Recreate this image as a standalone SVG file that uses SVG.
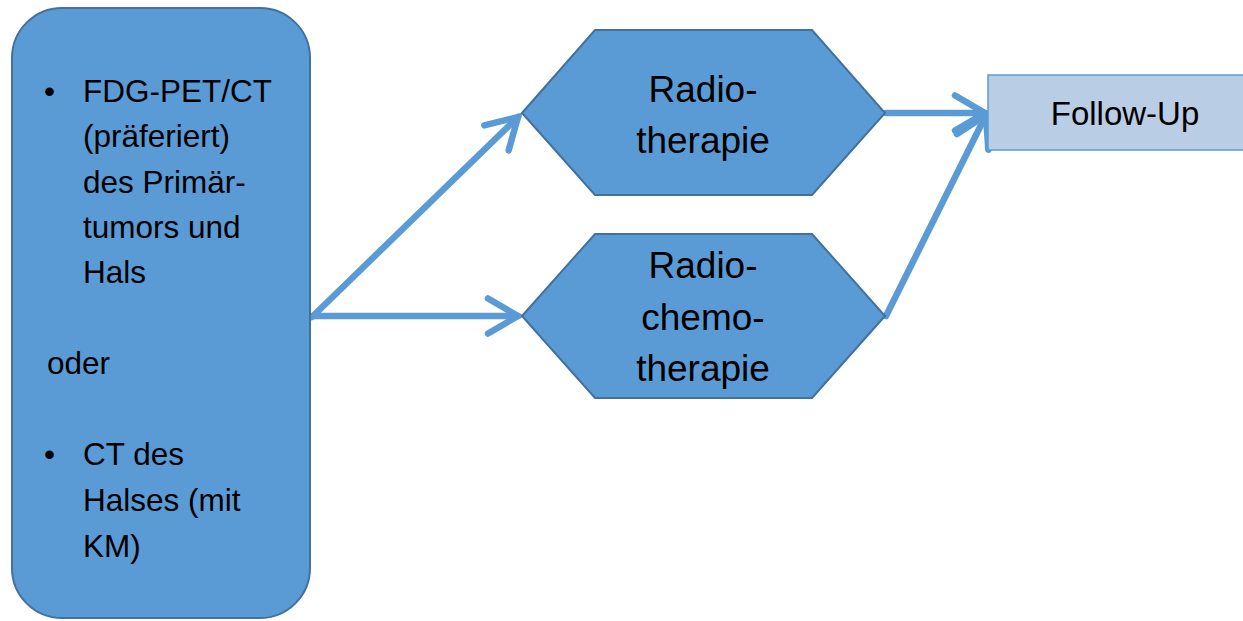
<svg xmlns="http://www.w3.org/2000/svg" width="1243" height="621" viewBox="0 0 1243 621">
  <style>
    .t { font-family: "Liberation Sans", Arial, sans-serif; fill: #000; }
    .left { font-size: 31.5px; }
    .hex { font-size: 37px; text-anchor: middle; }
    .fu { font-size: 33px; text-anchor: middle; }
    .shape { fill: #5B9BD5; stroke: #41719C; stroke-width: 2; }
    .conn { fill: none; stroke: #5B9BD5; stroke-width: 6.5; stroke-linecap: round; marker-end: url(#arrow); }
  </style>
  <defs>
    <marker id="arrow" markerUnits="userSpaceOnUse" markerWidth="80" markerHeight="80" refX="0" refY="0" orient="auto" overflow="visible">
      <path d="M -30,-17.5 L 0,0 L -30,17.5" fill="none" stroke="#5B9BD5" stroke-width="6.5" stroke-linecap="round" stroke-linejoin="miter"/>
    </marker>
  </defs>
  <rect width="1243" height="621" fill="#FFFFFF"/>

  <g id="connectors">
    <path class="conn" d="M 312,317 L 518,117"/>
    <path class="conn" d="M 312,316 L 518,316"/>
    <path class="conn" d="M 886,113 L 985,113"/>
    <path class="conn" d="M 886,316 L 986,115"/>
  </g>

  <g id="imaging">
    <rect class="shape" x="12" y="8" width="298" height="610" rx="50" ry="50"/>
    <text class="t left" x="44" y="102">•</text>
    <text class="t left" x="83" y="102">FDG-PET/CT</text>
    <text class="t left" x="83" y="147">(präferiert)</text>
    <text class="t left" x="83" y="193">des Primär-</text>
    <text class="t left" x="83" y="238">tumors und</text>
    <text class="t left" x="83" y="283">Hals</text>
    <text class="t left" x="47" y="374">oder</text>
    <text class="t left" x="44" y="465">•</text>
    <text class="t left" x="83" y="465">CT des</text>
    <text class="t left" x="83" y="511">Halses (mit</text>
    <text class="t left" x="83" y="557">KM)</text>
  </g>

  <g id="radiotherapie">
    <polygon class="shape" points="522,113 595,30 812,30 885,113 812,195 595,195"/>
    <text class="t hex" x="703" y="102">Radio-</text>
    <text class="t hex" x="703" y="153">therapie</text>
  </g>

  <g id="radiochemotherapie">
    <polygon class="shape" points="522,316 595,234 812,234 885,316 812,398 595,398"/>
    <text class="t hex" x="703" y="278">Radio-</text>
    <text class="t hex" x="703" y="330">chemo-</text>
    <text class="t hex" x="703" y="381">therapie</text>
  </g>

  <g id="followup">
    <rect x="988" y="75" width="262" height="75" fill="#B9CDE5" stroke="#5B9BD5" stroke-width="1.5"/>
    <text class="t fu" x="1125" y="125">Follow-Up</text>
  </g>
</svg>
